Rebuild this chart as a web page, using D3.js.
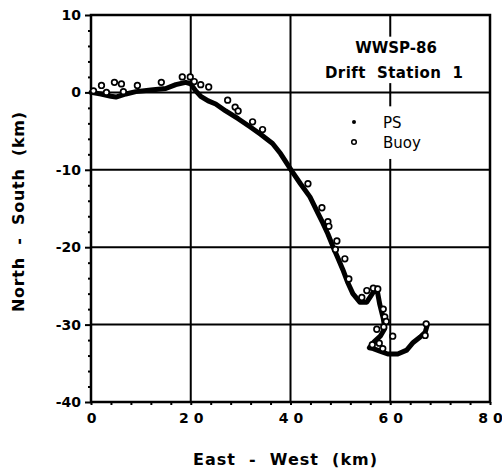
<!DOCTYPE html>
<html lang="en">
<head>
    <meta charset="UTF-8">
    <title>WWSP-86 Drift Station 1</title>
    <style>
        body{ margin:0; background:#fff; }
        .grid line{ stroke:black; stroke-width:2; }
        .tick text{ font-family:"DejaVu Sans",sans-serif; font-weight:bold; font-size:14px; }
        .label{ font-family:"DejaVu Sans",sans-serif; font-weight:bold; font-size:15px; white-space:pre; }
        .legend{ font-family:"DejaVu Sans",sans-serif; font-size:15px; }
    </style>
    <script type="text/javascript" src="https://cdn.jsdelivr.net/npm/d3@7"></script>
</head>
<body>
    <script>
        var width = 502;
        var height = 468;

        // data (km)
        var xTicks = [0, 20, 40, 60, 80];
        var xTickLabels = ["0", "2 0", "4 0", "6 0", "8 0"];
        var yTicks = [-40, -30, -20, -10, 0, 10];

        // PS track
        var psEast = [0, 2, 4, 5, 7, 9, 12, 15, 17, 19, 20, 21, 22, 23.5, 25, 27, 29.5, 31.8, 34, 36.4, 38, 39.5, 40.2, 42, 43.9, 45.5, 46.5, 47.5, 48.5, 49.5, 50.5, 51.5, 52.5, 53.9, 55.3, 56.6, 57.3, 57.9, 58.6, 58.9, 58, 56.8, 55.8, 56.6, 57.8, 59.5, 61.5, 63.3, 64.6, 66, 67, 67.4];
        var psNorth = [0, -0.2, -0.5, -0.6, -0.2, 0.1, 0.3, 0.5, 1.0, 1.3, 1.1, 0.2, -0.5, -1.1, -1.5, -2.4, -3.4, -4.4, -5.4, -6.6, -7.9, -9.4, -10.1, -11.8, -13.5, -15.6, -16.9, -18.3, -19.9, -21.4, -22.9, -24.6, -26.0, -27.1, -27.1, -25.8, -25.3, -27.4, -29.2, -30.5, -31.5, -32.2, -33.0, -33.1, -33.4, -33.8, -33.8, -33.3, -32.3, -31.6, -31.0, -30.1];

        // Buoy fixes
        var buoyEast = [0.5, 2.1, 3.1, 4.7, 6.1, 6.5, 9.3, 14.1, 18.3, 19.9, 20.7, 22, 23.6, 27.4, 28.9, 29.5, 32.4, 34.4, 43.5, 46.3, 47.5, 47.7, 49.3, 49, 50.9, 51.7, 54.3, 55.3, 56.6, 57.5, 58.6, 58.9, 59.2, 58.7, 57.3, 60.5, 57.8, 56.4, 58.5, 67.2, 67];
        var buoyNorth = [0.2, 0.9, 0, 1.3, 1.1, 0.1, 0.9, 1.3, 2.0, 2.0, 1.4, 1.0, 0.7, -1.0, -1.9, -2.4, -3.8, -4.8, -11.8, -14.9, -16.7, -17.3, -19.2, -20.3, -21.5, -24.1, -26.5, -25.6, -25.3, -25.4, -28, -29, -29.6, -30.3, -30.6, -31.5, -32.4, -32.6, -33.1, -29.9, -31.4];

        var ps = psEast.map(function(d, i){ return {x: d, y: psNorth[i]}; });
        var buoy = buoyEast.map(function(d, i){ return {x: d, y: buoyNorth[i]}; });

        var padding = {top: 15, right: 12, bottom: 66, left: 91};

        var svg = d3.select("body")
                .append("svg")
                .attr("width", width)
                .attr("height", height);

        var xScale = d3.scaleLinear()
                .domain([0, 80])
                .range([padding.left, width - padding.right]);

        var yScale = d3.scaleLinear()
                .domain([-40, 10])
                .range([height - padding.bottom, padding.top]);

        // grid lines
        var grid = svg.append("g").attr("class", "grid");
        grid.selectAll(".vx")
                .data([20, 40, 60])
                .enter()
                .append("line")
                .attr("x1", function(d){ return xScale(d); })
                .attr("x2", function(d){ return xScale(d); })
                .attr("y1", yScale(10))
                .attr("y2", yScale(-40));
        grid.selectAll(".hy")
                .data([0, -10, -20, -30])
                .enter()
                .append("line")
                .attr("x1", xScale(0))
                .attr("x2", xScale(80))
                .attr("y1", function(d){ return yScale(d); })
                .attr("y2", function(d){ return yScale(d); });

        // white boxes behind the title and legend (they break the 60 km line)
        svg.append("rect")
                .attr("x", xScale(51)).attr("y", yScale(7.2))
                .attr("width", xScale(74) - xScale(51)).attr("height", yScale(1.2) - yScale(7.2))
                .attr("fill", "white");
        svg.append("rect")
                .attr("x", xScale(52)).attr("y", yScale(-1.8))
                .attr("width", xScale(70) - xScale(52)).attr("height", yScale(-8.6) - yScale(-1.8))
                .attr("fill", "white");

        // axes
        var xAxis = d3.axisBottom(xScale)
                .tickValues(d3.range(0, 81, 4))
                .tickSize(3)
                .tickFormat(function(d){ var i = xTicks.indexOf(d); return i < 0 ? "" : xTickLabels[i]; });

        var yAxis = d3.axisLeft(yScale)
                .tickValues(d3.range(-40, 11, 2))
                .tickSize(3)
                .tickFormat(function(d){ return yTicks.indexOf(d) < 0 ? "" : d; });

        var gx = svg.append("g")
                .attr("transform", "translate(0," + yScale(-40) + ")")
                .call(xAxis);
        gx.select(".domain").remove();
        gx.selectAll(".tick line").attr("stroke-width", 2);
        gx.selectAll(".tick text").attr("dy", "1.05em").attr("y", 6).style("white-space", "pre");

        var gy = svg.append("g")
                .attr("transform", "translate(" + xScale(0) + ",0)")
                .call(yAxis);
        gy.select(".domain").remove();
        gy.selectAll(".tick line")
                .attr("stroke-width", 2)
                .attr("x2", function(d){ return yTicks.indexOf(d) < 0 ? -3 : -6; });
        gy.selectAll(".tick text").attr("x", -10);

        // frame
        svg.append("rect")
                .attr("x", xScale(0)).attr("y", yScale(10))
                .attr("width", xScale(80) - xScale(0))
                .attr("height", yScale(-40) - yScale(10))
                .attr("fill", "none")
                .attr("stroke", "black")
                .attr("stroke-width", 2.5);

        // PS track
        var line = d3.line()
                .x(function(d){ return xScale(d.x); })
                .y(function(d){ return yScale(d.y); })
                .curve(d3.curveLinear);

        svg.append("path")
                .attr("d", line(ps))
                .attr("fill", "none")
                .attr("stroke", "black")
                .attr("stroke-width", 5)
                .attr("stroke-linejoin", "round")
                .attr("stroke-linecap", "round");

        // buoy circles
        svg.selectAll(".buoy")
                .data(buoy)
                .enter()
                .append("circle")
                .attr("class", "buoy")
                .attr("cx", function(d){ return xScale(d.x); })
                .attr("cy", function(d){ return yScale(d.y); })
                .attr("r", 2.8)
                .attr("fill", "white")
                .attr("stroke", "black")
                .attr("stroke-width", 1.7);

        // title block
        svg.append("text")
                .attr("class", "label")
                .attr("x", 396).attr("y", 53)
                .attr("text-anchor", "middle")
                .text("WWSP-86");
        svg.append("text")
                .attr("class", "label")
                .attr("x", 394).attr("y", 78)
                .attr("text-anchor", "middle")
                .attr("textLength", 138)
                .text("Drift  Station  1");

        // legend
        svg.append("circle")
                .attr("cx", 354).attr("cy", 122).attr("r", 2)
                .attr("fill", "black");
        svg.append("text")
                .attr("class", "legend")
                .attr("x", 383).attr("y", 128)
                .text("PS");
        svg.append("circle")
                .attr("cx", 354).attr("cy", 142).attr("r", 2.3)
                .attr("fill", "white").attr("stroke", "black").attr("stroke-width", 1.5);
        svg.append("text")
                .attr("class", "legend")
                .attr("x", 383).attr("y", 148)
                .text("Buoy");

        // axis titles
        svg.append("text")
                .attr("class", "label")
                .attr("x", 285).attr("y", 465)
                .attr("text-anchor", "middle")
                .attr("textLength", 184)
                .style("font-size", "16px")
                .text("East  -  West  (km)");
        svg.append("text")
                .attr("class", "label")
                .attr("transform", "translate(24,212) rotate(-90)")
                .attr("text-anchor", "middle")
                .attr("textLength", 200)
                .style("font-size", "16px")
                .text("North  -  South  (km)");
    </script>
</body>
</html>
